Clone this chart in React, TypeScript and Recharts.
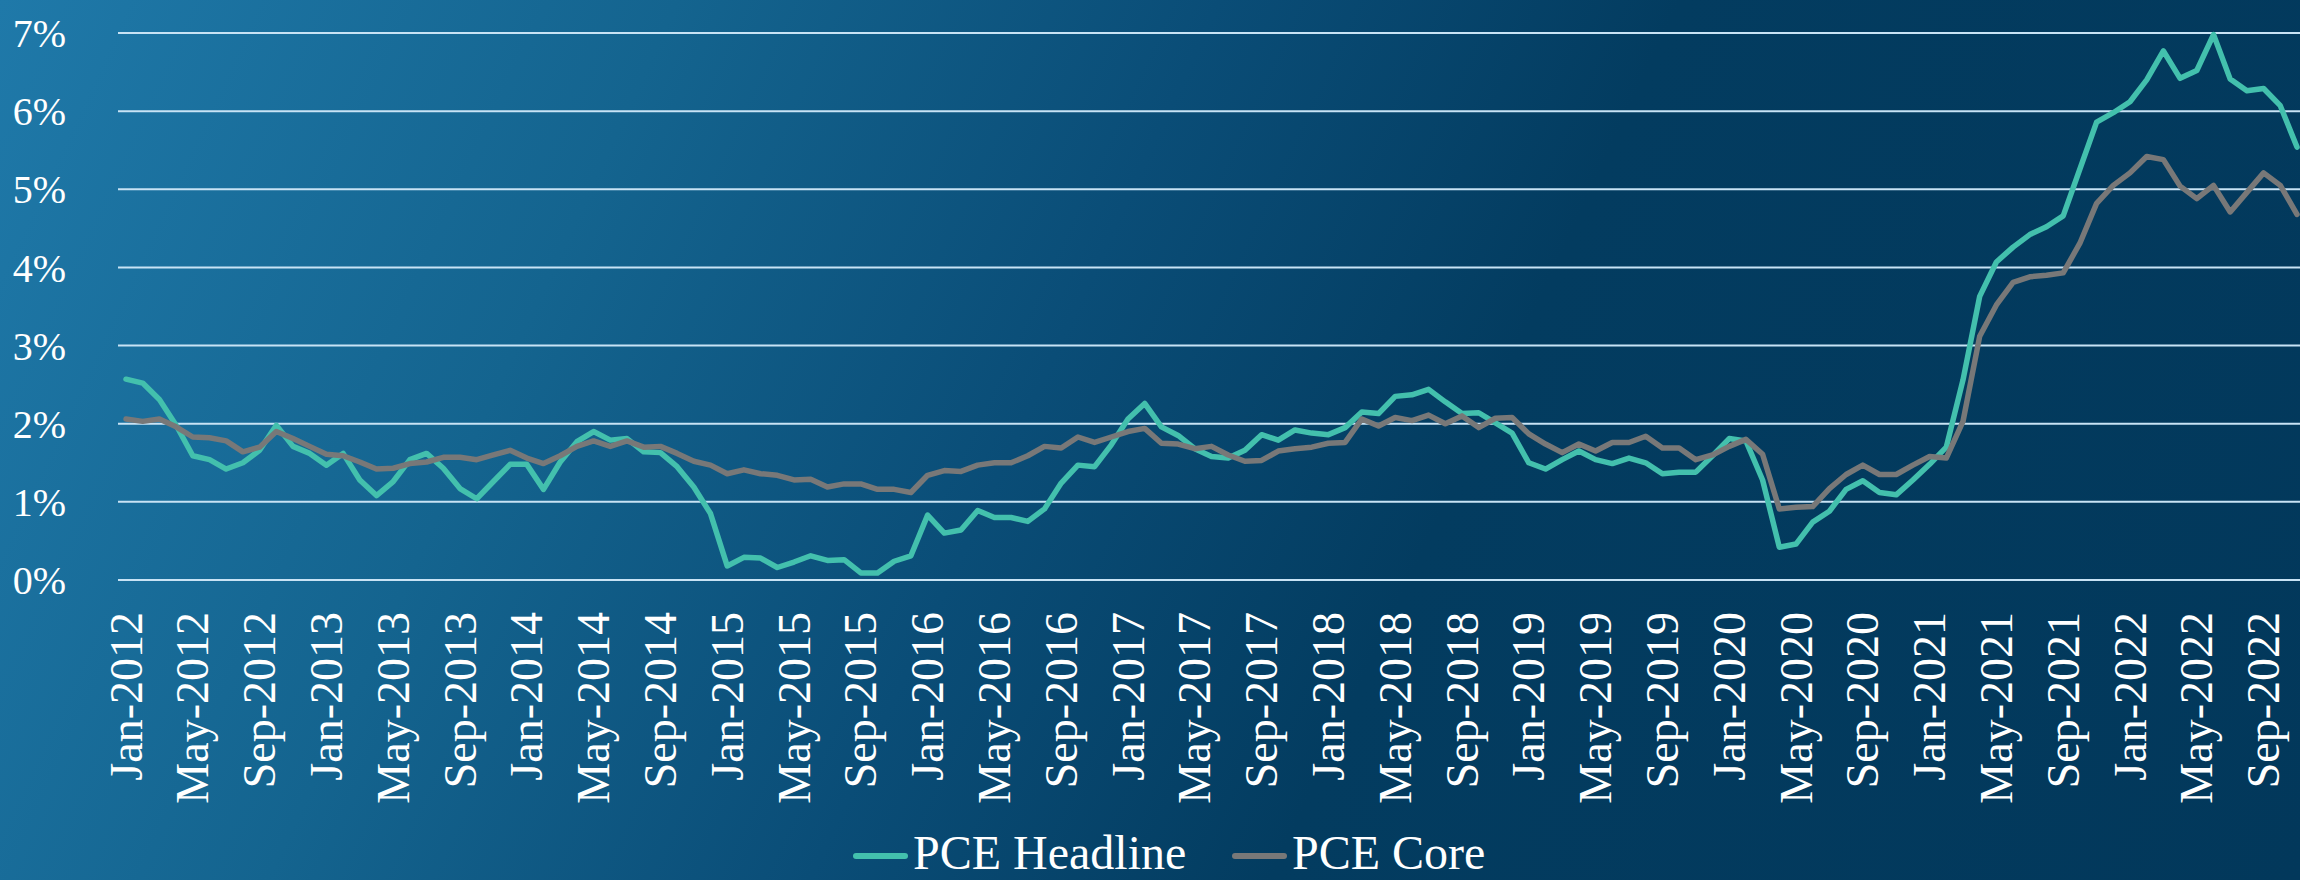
import { LineChart, Line, XAxis, YAxis, CartesianGrid } from 'recharts'

const MONTHS = ['Jan', 'Feb', 'Mar', 'Apr', 'May', 'Jun', 'Jul', 'Aug', 'Sep', 'Oct', 'Nov', 'Dec']
const YEARS = [2012, 2013, 2014, 2015, 2016, 2017, 2018, 2019, 2020, 2021, 2022]

// YoY % change, Jan-2012 .. Nov-2022
const headline = [
  2.57, 2.52, 2.31, 1.98, 1.59, 1.54, 1.42, 1.5, 1.66, 1.98, 1.71, 1.62,
  1.47, 1.62, 1.28, 1.08, 1.26, 1.54, 1.62, 1.43, 1.17, 1.04, 1.26, 1.48,
  1.48, 1.16, 1.51, 1.77, 1.9, 1.79, 1.81, 1.64, 1.63, 1.45, 1.19, 0.85,
  0.18, 0.29, 0.28, 0.16, 0.23, 0.31, 0.25, 0.26, 0.09, 0.09, 0.24, 0.31,
  0.83, 0.6, 0.64, 0.89, 0.8, 0.8, 0.75, 0.91, 1.24, 1.47, 1.45, 1.73,
  2.06, 2.26, 1.96, 1.85, 1.68, 1.58, 1.56, 1.66, 1.86, 1.79, 1.92, 1.88,
  1.86, 1.95, 2.15, 2.13, 2.35, 2.37, 2.44, 2.28, 2.13, 2.14, 2.01, 1.88,
  1.5, 1.42, 1.54, 1.65, 1.54, 1.49, 1.56, 1.5, 1.36, 1.38, 1.38, 1.59,
  1.81, 1.78, 1.28, 0.42, 0.46, 0.74, 0.88, 1.16, 1.27, 1.12, 1.09, 1.28,
  1.48, 1.7, 2.56, 3.63, 4.07, 4.26, 4.42, 4.52, 4.66, 5.26, 5.86, 5.98,
  6.12, 6.4, 6.77, 6.42, 6.52, 6.98, 6.41, 6.26, 6.29, 6.07, 5.54,
]

const core = [
  2.06, 2.03, 2.06, 1.96, 1.83, 1.82, 1.78, 1.64, 1.7, 1.9, 1.81, 1.71,
  1.61, 1.59, 1.51, 1.42, 1.43, 1.49, 1.51, 1.57, 1.57, 1.54, 1.6, 1.66,
  1.56, 1.49, 1.59, 1.71, 1.78, 1.71, 1.78, 1.7, 1.71, 1.62, 1.52, 1.47,
  1.36, 1.41, 1.36, 1.34, 1.28, 1.29, 1.19, 1.23, 1.23, 1.16, 1.16, 1.12,
  1.34, 1.4, 1.39, 1.47, 1.5, 1.5, 1.59, 1.71, 1.69, 1.83, 1.76, 1.83,
  1.9, 1.94, 1.75, 1.74, 1.68, 1.71, 1.6, 1.52, 1.53, 1.65, 1.68, 1.7,
  1.75, 1.76, 2.06, 1.97, 2.08, 2.04, 2.11, 2.0, 2.1, 1.95, 2.07, 2.08,
  1.87, 1.74, 1.63, 1.74, 1.65, 1.76, 1.76, 1.84, 1.69, 1.69, 1.54, 1.6,
  1.71, 1.8, 1.61, 0.91, 0.93, 0.94, 1.17, 1.35, 1.47, 1.35, 1.35, 1.47,
  1.58, 1.56, 2.03, 3.12, 3.52, 3.81, 3.88, 3.9, 3.93, 4.31, 4.82, 5.05,
  5.21, 5.42, 5.38, 5.04, 4.88, 5.05, 4.71, 4.96, 5.21, 5.05, 4.68,
]

const yTicks = [0, 1, 2, 3, 4, 5, 6, 7]

const series = [
  { key: 'headline', name: 'PCE Headline', color: '#43c0ad' },
  { key: 'core', name: 'PCE Core', color: '#787878' },
]

const months = YEARS.flatMap((y) => MONTHS.map((m) => `${m}-${y}`)).slice(0, headline.length)
const data = months.map((month, i) => ({ month, headline: headline[i], core: core[i] }))

const FONT = "'Times New Roman', 'Liberation Serif', serif"

function MonthTick({ x, y, payload }: any) {
  return (
    <text
      x={x}
      y={y + 32}
      transform={`rotate(-90, ${x}, ${y + 32})`}
      textAnchor="end"
      dominantBaseline="central"
      fill="#ffffff"
      fontSize={46}
      fontFamily={FONT}
    >
      {payload.value}
    </text>
  )
}

export default function App() {
  return (
    <div
      style={{
        position: 'absolute', left: 0, top: 0, width: 2300, height: 880, overflow: 'hidden',
        background: 'linear-gradient(115deg, #1f79a9 0%, #14648f 25%, #0a4d77 45%, #033c60 62%, #02385b 100%)',
      }}
    >
      <LineChart width={2305} height={880} data={data} margin={{ top: 33, right: 0, left: 0, bottom: 0 }}>
        <CartesianGrid horizontal vertical={false} stroke="#c8e3f5" strokeWidth={2} />
        <XAxis
          dataKey="month"
          interval={3}
          height={300}
          padding={{ left: 8, right: 8 }}
          axisLine={false}
          tickLine={false}
          tickSize={0}
          tickMargin={0}
          tick={<MonthTick />}
        />
        <YAxis
          domain={[0, 7]}
          ticks={yTicks}
          width={118}
          axisLine={false}
          tickLine={false}
          tickSize={0}
          tickMargin={52}
          tickFormatter={(v) => `${v}%`}
          tick={{ fill: '#ffffff', fontSize: 40, fontFamily: FONT }}
        />
        {series.map((s) => (
          <Line
            key={s.key}
            dataKey={s.key}
            name={s.name}
            type="linear"
            stroke={s.color}
            strokeWidth={5.5}
            strokeLinejoin="round"
            strokeLinecap="round"
            dot={false}
            isAnimationActive={false}
          />
        ))}
      </LineChart>
      <svg width={2300} height={880} style={{ position: 'absolute', left: 0, top: 0, pointerEvents: 'none' }}>
        {series.map((s, i) => {
          const x0 = i === 0 ? 853 : 1232
          return (
            <g key={s.key}>
              <line x1={x0 + 3} y1={856} x2={x0 + 52} y2={856} stroke={s.color} strokeWidth={6} strokeLinecap="round" />
              <text x={x0 + 60} y={869} fill="#ffffff" fontSize={48} fontFamily={FONT}>{s.name}</text>
            </g>
          )
        })}
      </svg>
    </div>
  )
}
